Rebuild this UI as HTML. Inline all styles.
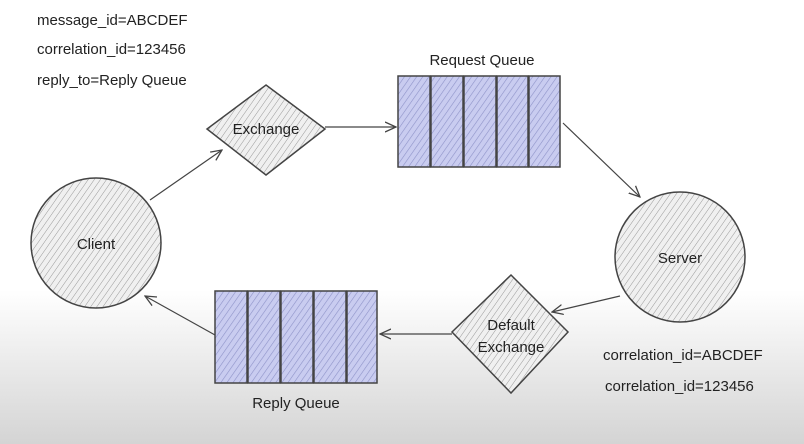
<!DOCTYPE html>
<html><head><style>
body{margin:0;width:804px;height:444px;overflow:hidden;background:linear-gradient(#fff 0px,#fff 290px,#d4d4d4 444px);}
svg{position:absolute;left:0;top:0}
text{font-family:"Liberation Sans",sans-serif;font-size:15px;fill:#222}
</style></head><body>
<svg width="804" height="444" viewBox="0 0 804 444">
<defs>
<pattern id="h" width="5" height="5" patternUnits="userSpaceOnUse" patternTransform="rotate(35)">
<rect width="5" height="5" fill="#f0f0f0"/><line x1="0" y1="0" x2="0" y2="5" stroke="#999" stroke-width="1"/></pattern>
<pattern id="b" width="5" height="5" patternUnits="userSpaceOnUse" patternTransform="rotate(35)">
<rect width="5" height="5" fill="#c9ccf0"/><line x1="0" y1="0" x2="0" y2="5" stroke="#8e93c8" stroke-width="1.2"/></pattern>
<marker id="a" markerWidth="12" markerHeight="12" refX="11" refY="6" orient="auto" markerUnits="userSpaceOnUse">
<path d="M0,1 L11,6 L0,11" fill="none" stroke="#444" stroke-width="1.3"/></marker>
</defs>
<g stroke="#444" stroke-width="1.5">
<circle cx="96" cy="243" r="65" fill="url(#h)"/>
<circle cx="680" cy="257" r="65" fill="url(#h)"/>
<polygon points="266,85 325,129 266,175 207,129" fill="url(#h)"/>
<polygon points="511,275 568,332 511,393 452,332" fill="url(#h)"/>
<rect x="398" y="76" width="32" height="91" fill="url(#b)"/>
<rect x="431" y="76" width="32" height="91" fill="url(#b)"/>
<rect x="464" y="76" width="32" height="91" fill="url(#b)"/>
<rect x="497" y="76" width="31" height="91" fill="url(#b)"/>
<rect x="529" y="76" width="31" height="91" fill="url(#b)"/>
<rect x="215" y="291" width="32" height="92" fill="url(#b)"/>
<rect x="248" y="291" width="32" height="92" fill="url(#b)"/>
<rect x="281" y="291" width="32" height="92" fill="url(#b)"/>
<rect x="314" y="291" width="32" height="92" fill="url(#b)"/>
<rect x="347" y="291" width="30" height="92" fill="url(#b)"/>
<g fill="none" stroke-width="1.2" marker-end="url(#a)">
<line x1="150" y1="200" x2="222" y2="150"/>
<line x1="325" y1="127" x2="396" y2="127"/>
<line x1="563" y1="123" x2="640" y2="197"/>
<line x1="620" y1="296" x2="552" y2="312"/>
<line x1="452" y1="334" x2="380" y2="334"/>
<line x1="215" y1="335" x2="145" y2="296"/>
</g>
</g>
<text x="37" y="25">message_id=ABCDEF</text>
<text x="37" y="54">correlation_id=123456</text>
<text x="37" y="85">reply_to=Reply Queue</text>
<text x="266" y="134" text-anchor="middle">Exchange</text>
<text x="482" y="65" text-anchor="middle">Request Queue</text>
<text x="96" y="249" text-anchor="middle">Client</text>
<text x="680" y="263" text-anchor="middle">Server</text>
<text x="511" y="330" text-anchor="middle">Default</text>
<text x="511" y="352" text-anchor="middle">Exchange</text>
<text x="296" y="408" text-anchor="middle">Reply Queue</text>
<text x="603" y="360">correlation_id=ABCDEF</text>
<text x="605" y="391">correlation_id=123456</text>
</svg>
</body></html>
